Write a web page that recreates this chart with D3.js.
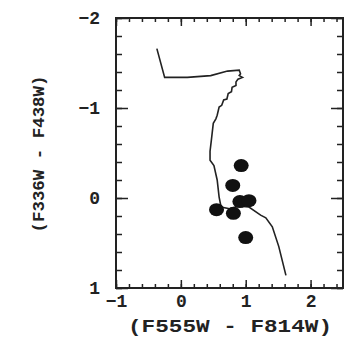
<!DOCTYPE html>
<html>
<head>
<meta charset="utf-8">
<script src="https://cdn.jsdelivr.net/npm/d3@7"></script>
<style>
  body { margin: 0; background: #fff; }
  svg { display: block; }
  .tick text { font-family: "Liberation Mono", monospace; font-weight: bold; font-size: 18px; fill: #222; }
  .domain { display: none; }
  .tick line { stroke: #222; stroke-width: 1.5; }
</style>
</head>
<body>
<svg id="chart" width="346" height="340"></svg>
<script>
// isochrone track (color, color)
let trackX = [-0.37, -0.25, 0.10, 0.46, 0.72, 0.90, 0.92, 0.90, 0.95, 0.88, 0.85, 0.85, 0.79, 0.78, 0.73, 0.71, 0.66, 0.63,
    0.59, 0.56, 0.54, 0.50, 0.47, 0.45, 0.45, 0.51, 0.56, 0.59, 0.62, 0.75, 0.90, 1.05, 1.23, 1.31, 1.41, 1.51, 1.62];
let trackY = [-1.66, -1.34, -1.34, -1.36, -1.41, -1.42, -1.38, -1.36, -1.34, -1.32, -1.29, -1.25, -1.23, -1.18, -1.16, -1.10, -1.09, -1.03,
    -1.01, -0.92, -0.88, -0.83, -0.64, -0.52, -0.42, -0.36, -0.20, -0.01, 0.10, 0.12, 0.09, 0.10, 0.19, 0.22, 0.32, 0.54, 0.86];

// observed stars
let starX = [0.93, 0.80, 0.91, 1.05, 0.55, 0.81, 1.00];
let starY = [-0.36, -0.14, 0.04, 0.03, 0.13, 0.17, 0.44];

let xMajor = [-1, 0, 1, 2];
let yMajor = [-2, -1, 0, 1];

let margin = {top: 18, right: 3, bottom: 52, left: 116},
    width = 346 - margin.left - margin.right,
    height = 340 - margin.top - margin.bottom;

let svg = d3.select("#chart");
let g = svg.append("g").attr("transform", `translate(${margin.left}, ${margin.top})`);

let xScale = d3.scaleLinear().domain([-1, 2.5]).range([0, width]);
let yScale = d3.scaleLinear().domain([-2, 1]).range([0, height]);

let xMinor = d3.range(-1, 2.51, 0.2).map(v => +v.toFixed(1));
let yMinor = d3.range(-2, 1.01, 0.2).map(v => +v.toFixed(1));

// minor ticks, all four sides, pointing inward
g.append("g").attr("transform", `translate(0, ${height})`)
    .call(d3.axisBottom(xScale).tickValues(xMinor).tickSize(-4).tickFormat(""));
g.append("g")
    .call(d3.axisTop(xScale).tickValues(xMinor).tickSize(-4).tickFormat(""));
g.append("g")
    .call(d3.axisLeft(yScale).tickValues(yMinor).tickSize(-6).tickFormat(""));
g.append("g").attr("transform", `translate(${width}, 0)`)
    .call(d3.axisRight(yScale).tickValues(yMinor).tickSize(-6).tickFormat(""));

// major ticks
g.append("g").attr("transform", `translate(0, ${height})`)
    .call(d3.axisBottom(xScale).tickValues(xMajor).tickSize(-8).tickPadding(6)
        .tickFormat(d => d < 0 ? "\u2212" + Math.abs(d) : d));
g.append("g")
    .call(d3.axisTop(xScale).tickValues(xMajor).tickSize(-8).tickFormat(""));
g.append("g")
    .call(d3.axisLeft(yScale).tickValues(yMajor).tickSize(-12).tickPadding(16)
        .tickFormat(d => d < 0 ? "\u2212" + Math.abs(d) : d));
g.append("g").attr("transform", `translate(${width}, 0)`)
    .call(d3.axisRight(yScale).tickValues(yMajor).tickSize(-12).tickFormat(""));

// frame
g.append("rect")
    .attr("width", width)
    .attr("height", height)
    .attr("fill", "none")
    .attr("stroke", "#222")
    .attr("stroke-width", 2);

// track line
let track = trackX.map((d, i) => [d, trackY[i]]);
let line = d3.line().x(d => xScale(d[0])).y(d => yScale(d[1]));
g.append("path")
    .datum(track)
    .attr("d", line)
    .attr("fill", "none")
    .attr("stroke", "#222")
    .attr("stroke-width", 1.6);

// stars
g.selectAll("ellipse")
    .data(starX)
    .enter()
    .append("ellipse")
    .attr("cx", d => xScale(d))
    .attr("cy", (d, i) => yScale(starY[i]))
    .attr("rx", 7.5)
    .attr("ry", 6.5)
    .attr("fill", "#111");

// axis labels
svg.append("text")
    .attr("x", 230)
    .attr("y", 332)
    .attr("text-anchor", "middle")
    .attr("font-family", "Liberation Mono, monospace")
    .attr("font-weight", "bold")
    .attr("font-size", "18px")
    .attr("textLength", 204)
    .attr("lengthAdjust", "spacingAndGlyphs")
    .attr("fill", "#222")
    .text("(F555W - F814W)");

svg.append("text")
    .attr("transform", "translate(44, 154) rotate(-90)")
    .attr("text-anchor", "middle")
    .attr("font-family", "Liberation Mono, monospace")
    .attr("font-weight", "bold")
    .attr("font-size", "17px")
    .attr("textLength", 157)
    .attr("lengthAdjust", "spacingAndGlyphs")
    .attr("fill", "#222")
    .text("(F336W - F438W)");
</script>
</body>
</html>
